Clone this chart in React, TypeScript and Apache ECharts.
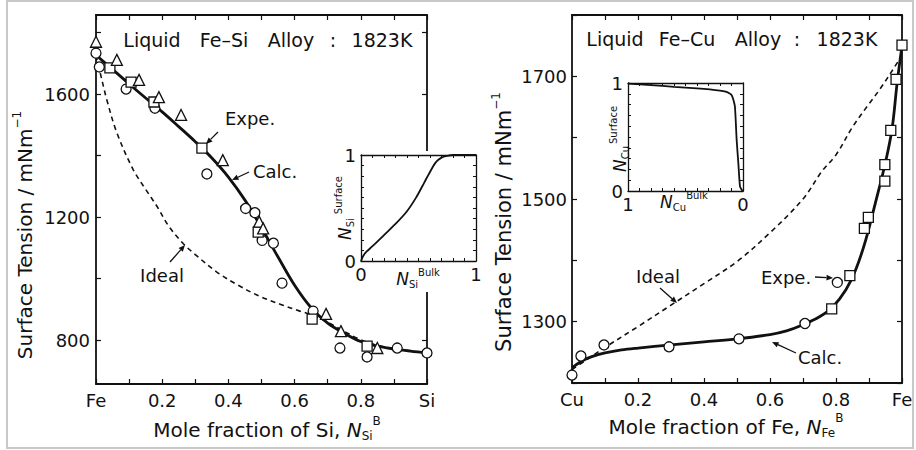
import React, { useEffect, useRef } from 'react';
import * as echarts from 'echarts';

const FONT = '"DejaVu Sans", "Liberation Sans", Arial, sans-serif';
const INK = '#111';

// ---------------- Fe-Si panel data ----------------
const feSiCalcX = [0.005, 0.05, 0.1, 0.15, 0.2, 0.25, 0.3, 0.35, 0.4, 0.45, 0.5, 0.55, 0.6, 0.65, 0.7, 0.75, 0.8, 0.85, 0.9, 0.95, 1.0];
const feSiCalcY = [1722, 1680, 1633, 1587, 1542, 1494, 1445, 1392, 1330, 1255, 1165, 1070, 978, 905, 855, 822, 795, 780, 771, 764, 758];
const feSiIdealX = [0, 0.012, 0.033, 0.063, 0.112, 0.15, 0.184, 0.22, 0.264, 0.3, 0.365, 0.43, 0.495, 0.56, 0.616, 0.656, 0.7, 0.75, 0.8, 0.85, 0.9, 0.95, 1.0];
const feSiIdealY = [1725, 1672, 1580, 1474, 1355, 1290, 1235, 1170, 1113, 1078, 1021, 978, 942, 915, 894, 881, 858, 828, 801, 783, 772, 764, 758];
const feSiCircles: [number, number][] = [
  [0.0, 1733], [0.01, 1688], [0.091, 1616], [0.178, 1554], [0.335, 1340], [0.452, 1228], [0.48, 1214],
  [0.502, 1124], [0.536, 1115], [0.562, 985], [0.656, 894], [0.737, 774], [0.819, 745], [0.91, 774], [1.0, 758],
];
const feSiSquares: [number, number][] = [
  [0.042, 1685], [0.106, 1639], [0.175, 1574], [0.32, 1424], [0.49, 1151], [0.653, 868], [0.819, 780],
];
const feSiTriangles: [number, number][] = [
  [0.0, 1770], [0.063, 1711], [0.13, 1646], [0.19, 1590], [0.257, 1532], [0.383, 1385], [0.493, 1185],
  [0.505, 1163], [0.695, 885], [0.74, 829], [0.85, 774],
];

// ---------------- Fe-Cu panel data ----------------
const feCuCalcX = [0, 0.03, 0.06, 0.1, 0.15, 0.2, 0.3, 0.4, 0.5, 0.6, 0.65, 0.7, 0.75, 0.79, 0.83, 0.86, 0.89, 0.92, 0.95, 0.97, 0.985, 1.0];
const feCuCalcY = [1225, 1236, 1243, 1249, 1254, 1257, 1262, 1267, 1272, 1279, 1285, 1295, 1308, 1324, 1352, 1385, 1433, 1495, 1560, 1615, 1688, 1750];
const feCuIdealX = [0, 0.05, 0.1, 0.2, 0.3, 0.4, 0.5, 0.6, 0.7, 0.757, 0.8, 0.852, 0.9, 0.933, 0.989, 1.0];
const feCuIdealY = [1222, 1240, 1258, 1292, 1327, 1362, 1398, 1445, 1500, 1545, 1572, 1619, 1655, 1679, 1725, 1736];
const feCuCircles: [number, number][] = [
  [0.0, 1213], [0.027, 1244], [0.097, 1262], [0.294, 1259], [0.506, 1272], [0.706, 1297], [0.804, 1364],
];
const feCuSquares: [number, number][] = [
  [0.787, 1321], [0.842, 1375], [0.886, 1452], [0.898, 1470], [0.948, 1529], [0.948, 1556], [0.966, 1612],
  [0.982, 1695], [1.0, 1751],
];

// ---------------- insets ----------------
const siBulk = [0, 0.02, 0.05, 0.1, 0.2, 0.3, 0.4, 0.48, 0.55, 0.6, 0.65, 0.7, 0.75, 0.8, 0.9, 1.0];
const siSurface = [0, 0.05, 0.09, 0.14, 0.245, 0.35, 0.47, 0.6, 0.74, 0.84, 0.93, 0.975, 0.992, 1.0, 1.0, 1.0];
const cuBulk = [1, 0.8, 0.6, 0.4, 0.2, 0.15, 0.12, 0.1, 0.085, 0.07, 0.055, 0.04, 0.026, 0.01, 0];
const cuSurface = [0.995, 0.98, 0.965, 0.95, 0.93, 0.92, 0.905, 0.89, 0.85, 0.78, 0.47, 0.25, 0.04, 0.01, 0];

// tick values
const siYTicks = [800, 1000, 1200, 1400, 1600, 1800];
const siYLabels = [800, 1200, 1600];
const cuYLabels = [1300, 1500, 1700];

const pairs = (xs: number[], ys: number[]) => xs.map((x, i) => [x, ys[i]]);

let mctx: CanvasRenderingContext2D | null = null;
function textWidth(text: string, size: number, italic = false) {
  if (!mctx) mctx = document.createElement('canvas').getContext('2d');
  if (!mctx) return text.length * size * 0.6;
  mctx.font = `${italic ? 'italic ' : ''}${size}px ${FONT}`;
  return mctx.measureText(text).width;
}

function textEl(text: string, x: number, y: number, size: number, opts: any = {}) {
  const align = opts.align || 'left';
  return {
    type: 'text', x, y, z: 100,
    style: {
      text, fill: INK, fontSize: size, fontFamily: FONT,
      fontStyle: opts.italic ? 'italic' : 'normal', fontWeight: opts.bold ? 'bold' : 'normal',
      align, textAlign: align, verticalAlign: 'middle', textVerticalAlign: 'middle',
    },
  };
}

type Part = { t: string; s: number; it?: boolean; dy: number; gap?: number };
function composite(parts: Part[], cx: number, cy: number, rotate: boolean) {
  const ws = parts.map((p) => textWidth(p.t, p.s, !!p.it));
  const total = parts.reduce((a, p, i) => a + ws[i] + (p.gap || 0), 0);
  let x = -total / 2;
  const children = parts.map((p, i) => {
    x += p.gap || 0;
    const el = textEl(p.t, x, p.dy, p.s, { italic: p.it });
    x += ws[i];
    return el;
  });
  return { type: 'group', x: cx, y: cy, rotation: rotate ? Math.PI / 2 : 0, children, z: 100 };
}

function arrow(x1: number, y1: number, x2: number, y2: number) {
  const dx = x2 - x1, dy = y2 - y1, L = Math.hypot(dx, dy);
  const ux = dx / L, uy = dy / L;
  const hl = 6.5, hw = 2.8;
  const bx = x2 - ux * hl, by = y2 - uy * hl;
  return [
    { type: 'line', z: 100, shape: { x1, y1, x2: bx, y2: by }, style: { stroke: INK, lineWidth: 1.3 } },
    { type: 'polygon', z: 100, shape: { points: [[x2, y2], [bx - uy * hw, by + ux * hw], [bx + uy * hw, by - ux * hw]] }, style: { fill: INK } },
  ];
}

const axisLineStyle = (w: number) => ({ show: true, onZero: false, lineStyle: { color: INK, width: w } });

function fracX(grid: number, position: 'top' | 'bottom', names: [string, string] | null, z = 0) {
  return {
    type: 'value', gridIndex: grid, position, min: 0, max: 1, interval: 0.1, z,
    axisLine: axisLineStyle(1.8),
    axisTick: { show: true, inside: true, length: 5, lineStyle: { color: INK, width: 1.2 } },
    axisLabel: {
      show: !!names, margin: 7, color: INK, fontSize: 18, fontFamily: FONT,
      formatter: (v: number) => {
        const k = Math.round(v * 10);
        if (!names) return '';
        if (k === 0) return names[0];
        if (k === 10) return names[1];
        return k % 2 === 0 ? (k / 10).toFixed(1) : '';
      },
    },
    splitLine: { show: false },
  };
}

function insetX(grid: number, position: 'top' | 'bottom', show: boolean, inverse: boolean) {
  return {
    type: 'value', gridIndex: grid, position, min: 0, max: 1, interval: 0.1, inverse, z: 60,
    axisLine: axisLineStyle(1.3),
    axisTick: { show: true, inside: true, length: 3, lineStyle: { color: INK, width: 1 } },
    axisLabel: {
      show, margin: 4, color: INK, fontSize: 18, fontFamily: FONT,
      formatter: (v: number) => { const k = Math.round(v * 10); return k === 0 ? '0' : k === 10 ? '1' : ''; },
    },
    splitLine: { show: false },
  };
}
function insetY(grid: number, position: 'left' | 'right', show: boolean) {
  return {
    type: 'value', gridIndex: grid, position, min: 0, max: 1, interval: 0.1, z: 60,
    axisLine: axisLineStyle(1.3),
    axisTick: { show: true, inside: true, length: 3, lineStyle: { color: INK, width: 1 } },
    axisLabel: {
      show, margin: 5, color: INK, fontSize: 18, fontFamily: FONT,
      formatter: (v: number) => { const k = Math.round(v * 10); return k === 0 ? '0' : k === 10 ? '1' : ''; },
    },
    splitLine: { show: false },
  };
}

function siY(position: 'left' | 'right', show: boolean) {
  return {
    type: 'value', gridIndex: 0, position, min: 657, max: 1857,
    axisLine: axisLineStyle(1.8),
    axisTick: { show: true, inside: true, length: 5, customValues: siYTicks, lineStyle: { color: INK, width: 1.2 } },
    axisLabel: {
      show, customValues: siYLabels, margin: 6, color: INK, fontSize: 18, fontFamily: FONT,
      formatter: (v: number) => String(Math.round(v)),
    },
    splitLine: { show: false },
  };
}
function cuY(position: 'left' | 'right', show: boolean) {
  return {
    type: 'value', gridIndex: 1, position, min: 1200, max: 1800, interval: 100,
    axisLine: axisLineStyle(1.8),
    axisTick: { show: true, inside: true, length: 5, lineStyle: { color: INK, width: 1.2 } },
    axisLabel: {
      show, margin: 5, color: INK, fontSize: 18, fontFamily: FONT,
      formatter: (v: number) => (cuYLabels.indexOf(Math.round(v)) >= 0 ? String(Math.round(v)) : ''),
    },
    splitLine: { show: false },
  };
}

const marker = (symbol: string, size: number) => ({
  type: 'scatter', symbol, symbolSize: size, z: 5,
  itemStyle: { color: '#fff', borderColor: INK, borderWidth: 1.3, opacity: 1 },
});

function buildOption() {
  const graphics: any[] = [
    { type: 'rect', z: 0, shape: { x: 7, y: 1, width: 906, height: 447 }, style: { fill: 'none', stroke: '#c8c8c8', lineWidth: 2 } },
    { type: 'rect', z: 50, shape: { x: 326, y: 151, width: 160, height: 141 }, style: { fill: '#fff' } },
    // titles
    textEl('Liquid', 152, 40, 19, { align: 'center' }), textEl('Fe–Si', 224, 40, 19, { align: 'center' }),
    textEl('Alloy', 291, 40, 19, { align: 'center' }), textEl(':', 333, 40, 19, { align: 'center' }),
    textEl('1823K', 382, 40, 19, { align: 'center' }),
    textEl('Liquid', 615, 39, 19, { align: 'center' }), textEl('Fe–Cu', 687, 39, 19, { align: 'center' }),
    textEl('Alloy', 758, 39, 19, { align: 'center' }), textEl(':', 797, 39, 19, { align: 'center' }),
    textEl('1823K', 847, 39, 19, { align: 'center' }),
    // annotations
    textEl('Expe.', 250, 118, 18, { align: 'center' }), ...arrow(218, 132, 206, 144),
    textEl('Calc.', 275, 171, 18, { align: 'center' }), ...arrow(249, 172, 232, 180),
    textEl('Ideal', 162, 275, 18, { align: 'center' }), ...arrow(170, 262, 185, 245),
    textEl('Ideal', 658, 276, 18, { align: 'center' }), ...arrow(660, 288, 677, 303),
    textEl('Expe.', 786, 277, 18, { align: 'center' }), ...arrow(815, 277, 833, 278),
    textEl('Calc.', 820, 357, 18, { align: 'center' }), ...arrow(796, 353, 772, 342),
    // axis titles
    composite([
      { t: 'Mole fraction of Si, ', s: 20, dy: 0 }, { t: 'N', s: 20, it: true, dy: 0 },
      { t: 'Si', s: 12, dy: 6 }, { t: 'B', s: 12, dy: -9 },
    ], 267, 430, false),
    composite([
      { t: 'Mole fraction of Fe, ', s: 20, dy: 0 }, { t: 'N', s: 20, it: true, dy: 0 },
      { t: 'Fe', s: 12, dy: 6 }, { t: 'B', s: 12, dy: -9 },
    ], 726, 427, false),
    composite([{ t: 'Surface Tension / mNm', s: 20, dy: 0 }, { t: '−1', s: 12, dy: -8 }], 25, 235, true),
    composite([{ t: 'Surface Tension / mNm', s: 21, dy: 0 }, { t: '−1', s: 12, dy: -8 }], 504, 222, true),
    // inset titles
    composite([
      { t: 'N', s: 17, it: true, dy: 0 }, { t: 'Si', s: 10, dy: 5 }, { t: 'Bulk', s: 10, dy: -7 },
    ], 418, 279, false),
    composite([
      { t: 'N', s: 17, it: true, dy: 0 }, { t: 'Si', s: 10, dy: 5 }, { t: 'Surface', s: 10, dy: -7, gap: 4 },
    ], 345, 208, true),
    composite([
      { t: 'N', s: 17, it: true, dy: 0 }, { t: 'Cu', s: 10, dy: 5 }, { t: 'Bulk', s: 10, dy: -7 },
    ], 684, 202, false),
    composite([
      { t: 'N', s: 17, it: true, dy: 0 }, { t: 'Cu', s: 10, dy: 5 }, { t: 'Surface', s: 10, dy: -7, gap: 2 },
    ], 620, 139, true),
  ];

  return {
    animation: false,
    backgroundColor: '#fff',
    grid: [
      { left: 96, top: 15, width: 331, height: 369 },
      { left: 572, top: 15, width: 330, height: 368 },
      { left: 361, top: 155, width: 115, height: 106 },
      { left: 628, top: 83, width: 115, height: 108 },
    ],
    xAxis: [
      fracX(0, 'bottom', ['Fe', 'Si']), fracX(0, 'top', null),
      fracX(1, 'bottom', ['Cu', 'Fe']), fracX(1, 'top', null),
      insetX(2, 'bottom', true, false), insetX(2, 'top', false, false),
      insetX(3, 'bottom', true, true), insetX(3, 'top', false, true),
    ],
    yAxis: [
      siY('left', true), siY('right', false),
      cuY('left', true), cuY('right', false),
      insetY(2, 'left', true), insetY(2, 'right', false),
      insetY(3, 'left', true), insetY(3, 'right', false),
    ],
    series: [
      { type: 'line', name: 'Fe-Si ideal', xAxisIndex: 0, yAxisIndex: 0, data: pairs(feSiIdealX, feSiIdealY), smooth: 0.35, symbol: 'none', z: 3,
        lineStyle: { color: INK, width: 1.6, type: [5, 4] } },
      { type: 'line', name: 'Fe-Si calc', xAxisIndex: 0, yAxisIndex: 0, data: pairs(feSiCalcX, feSiCalcY), smooth: 0.35, symbol: 'none', z: 4,
        lineStyle: { color: INK, width: 2.8 } },
      { ...marker('circle', 10), xAxisIndex: 0, yAxisIndex: 0, data: feSiCircles },
      { ...marker('rect', 10), xAxisIndex: 0, yAxisIndex: 0, data: feSiSquares },
      { ...marker('triangle', 11), xAxisIndex: 0, yAxisIndex: 0, data: feSiTriangles },

      { type: 'line', name: 'Fe-Cu ideal', xAxisIndex: 2, yAxisIndex: 2, data: pairs(feCuIdealX, feCuIdealY), smooth: 0.35, symbol: 'none', z: 3,
        lineStyle: { color: INK, width: 1.6, type: [5, 4] } },
      { type: 'line', name: 'Fe-Cu calc', xAxisIndex: 2, yAxisIndex: 2, data: pairs(feCuCalcX, feCuCalcY), smooth: 0.35, symbol: 'none', z: 4,
        lineStyle: { color: INK, width: 2.8 } },
      { ...marker('circle', 10), xAxisIndex: 2, yAxisIndex: 2, data: feCuCircles },
      { ...marker('rect', 10), xAxisIndex: 2, yAxisIndex: 2, data: feCuSquares },

      { type: 'line', name: 'Si inset', xAxisIndex: 4, yAxisIndex: 4, data: pairs(siBulk, siSurface), smooth: 0.3, symbol: 'none', z: 61,
        lineStyle: { color: INK, width: 1.8 } },
      { type: 'line', name: 'Cu inset', xAxisIndex: 6, yAxisIndex: 6, data: pairs(cuBulk, cuSurface), smooth: 0.2, symbol: 'none', z: 61,
        lineStyle: { color: INK, width: 1.8 } },
    ],
    graphic: graphics,
  };
}

export default function App() {
  const ref = useRef<HTMLDivElement>(null);
  useEffect(() => {
    document.body.style.margin = '0';
    if (!ref.current) return;
    const chart = echarts.init(ref.current, undefined, { renderer: 'svg' });
    chart.setOption(buildOption() as any);
    return () => chart.dispose();
  }, []);
  return <div ref={ref} style={{ position: 'fixed', left: 0, top: 0, width: 916, height: 450 }} />;
}
